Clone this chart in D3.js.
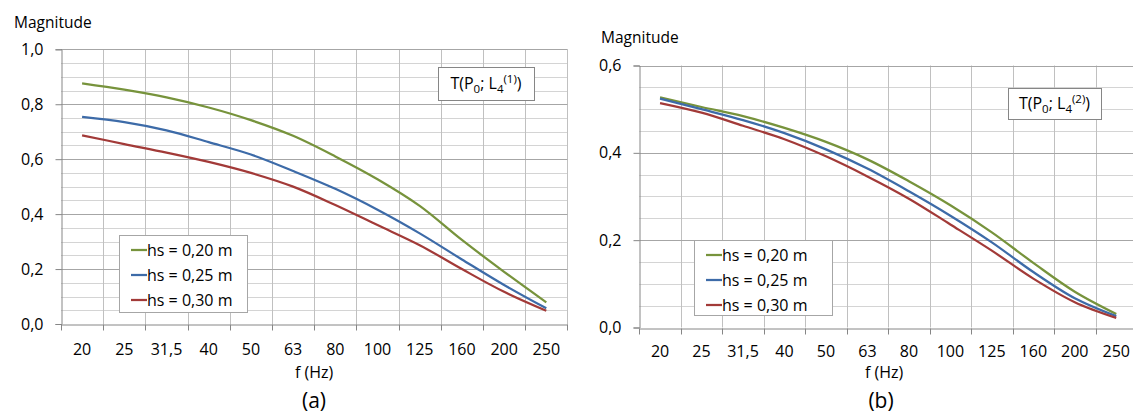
<!DOCTYPE html>
<html>
<head>
<meta charset="utf-8">
<script src="https://cdn.jsdelivr.net/npm/d3@7"></script>
<style>
  html, body { margin: 0; padding: 0; background: #fff; }
  svg { display: block; font-family: "Open Sans", "Liberation Sans", sans-serif; }
</style>
</head>
<body>
<svg id="chart" width="1133" height="414"></svg>
<script>
// ---------- DATA ----------
const categories = ["20", "25", "31,5", "40", "50", "63", "80", "100", "125", "160", "200", "250"];
const seriesNames = ["hs = 0,20 m", "hs = 0,25 m", "hs = 0,30 m"];
const seriesColors = ["#77933C", "#3D6BA8", "#A23A38"];

// Panel (a): T(P0; L4(1))
const aHs020 = [0.876, 0.853, 0.825, 0.788, 0.742, 0.685, 0.610, 0.527, 0.430, 0.306, 0.190, 0.079];
const aHs025 = [0.754, 0.735, 0.705, 0.662, 0.617, 0.557, 0.492, 0.416, 0.330, 0.235, 0.142, 0.057];
const aHs030 = [0.687, 0.655, 0.624, 0.590, 0.550, 0.500, 0.433, 0.360, 0.287, 0.200, 0.117, 0.048];
const aYTicks = [0.0, 0.2, 0.4, 0.6, 0.8, 1.0];

// Panel (b): T(P0; L4(2))
const bHs020 = [0.527, 0.505, 0.484, 0.457, 0.425, 0.385, 0.335, 0.280, 0.218, 0.148, 0.082, 0.031];
const bHs025 = [0.524, 0.500, 0.475, 0.445, 0.408, 0.364, 0.312, 0.256, 0.195, 0.127, 0.067, 0.026];
const bHs030 = [0.514, 0.492, 0.462, 0.431, 0.392, 0.346, 0.295, 0.236, 0.176, 0.112, 0.058, 0.022];
const bYTicks = [0.0, 0.2, 0.4, 0.6];

const minorStep = 0.05;
const fmt = v => d3.format(".1f")(v).replace(".", ",");

const svg = d3.select("#chart");

function drawPanel(cfg) {
  const g = svg.append("g");
  const x = d3.scaleBand().domain(categories).range([cfg.x0, cfg.x1]);
  const y = d3.scaleLinear().domain([0, cfg.yMax]).range([cfg.yBottom, cfg.yTop]);

  // minor horizontal gridlines
  const minor = d3.range(0, cfg.yMax + 1e-9, minorStep).filter(v => Math.abs(v / 0.2 - Math.round(v / 0.2)) > 1e-6);
  g.selectAll(".minor").data(minor).join("line")
    .attr("x1", cfg.x0).attr("x2", cfg.x1)
    .attr("y1", d => Math.round(y(d)) + 0.5).attr("y2", d => Math.round(y(d)) + 0.5)
    .attr("stroke", "#d4d4d4").attr("stroke-width", 1);

  // vertical gridlines at category boundaries
  const bounds = categories.map(c => x(c)).concat([cfg.x1]);
  g.selectAll(".vgrid").data(bounds.slice(1)).join("line")
    .attr("x1", d => Math.round(d) + 0.5).attr("x2", d => Math.round(d) + 0.5)
    .attr("y1", cfg.yTop).attr("y2", cfg.yBottom)
    .attr("stroke", "#c0c0c0").attr("stroke-width", 1);

  // major horizontal gridlines
  g.selectAll(".major").data(cfg.yTicks.filter(v => v > 0)).join("line")
    .attr("x1", cfg.x0).attr("x2", cfg.x1)
    .attr("y1", d => Math.round(y(d)) + 0.5).attr("y2", d => Math.round(y(d)) + 0.5)
    .attr("stroke", "#a6a6a6").attr("stroke-width", 1);

  // Y axis with ticks
  const yAxis = d3.axisLeft(y).tickValues(cfg.yTicks).tickFormat(fmt).tickSize(6).tickPadding(12);
  const ya = g.append("g").attr("transform", `translate(${Math.round(cfg.x0) + 0.5},0)`).call(yAxis);
  ya.select(".domain").attr("stroke", "#868686");
  ya.selectAll(".tick line").attr("stroke", "#868686");
  ya.selectAll(".tick text").attr("font-size", 16).attr("fill", "#000")
    .attr("font-family", "'Open Sans', sans-serif");

  // X axis
  const xAxis = d3.axisBottom(x).tickSize(0).tickPadding(cfg.xPad);
  const xa = g.append("g").attr("transform", `translate(0,${Math.round(cfg.yBottom) + 0.5})`).call(xAxis);
  xa.select(".domain").attr("stroke", "#868686");
  xa.selectAll(".tick text").attr("font-size", 16).attr("fill", "#000")
    .attr("font-family", "'Open Sans', sans-serif").attr("dy", "0.71em");
  xa.selectAll(".btick").data(bounds).join("line")
    .attr("x1", d => Math.round(d) + 0.5).attr("x2", d => Math.round(d) + 0.5)
    .attr("y1", 0).attr("y2", 6).attr("stroke", "#868686");

  // Series lines (smoothed like the original)
  const line = d3.line()
    .x((d, i) => x(categories[i]) + x.bandwidth() / 2)
    .y(d => y(d))
    .curve(d3.curveCatmullRom.alpha(0.5));
  cfg.series.forEach((s, i) => {
    g.append("path").datum(s).attr("d", line)
      .attr("fill", "none").attr("stroke", seriesColors[i]).attr("stroke-width", 2.25);
  });

  // Axis titles
  g.append("text").attr("x", cfg.magX).attr("y", cfg.magY).text("Magnitude")
    .attr("font-size", 15.5).attr("fill", "#000");
  g.append("text").attr("x", (cfg.x0 + cfg.x1) / 2 + cfg.fOff).attr("y", 378).attr("text-anchor", "middle")
    .text("f (Hz)").attr("font-size", 16).attr("fill", "#000");
  g.append("text").attr("x", cfg.capX).attr("y", 408).attr("text-anchor", "middle")
    .text(cfg.caption).attr("font-size", 21).attr("fill", "#000");

  // Legend
  const lg = g.append("g");
  lg.append("rect").attr("x", cfg.leg[0] + 0.5).attr("y", cfg.leg[1] + 0.5)
    .attr("width", cfg.leg[2]).attr("height", cfg.leg[3])
    .attr("fill", "#fff").attr("stroke", "#a6a6a6");
  seriesNames.forEach((name, i) => {
    const cy = cfg.leg[1] + 15 + i * 25;
    lg.append("line").attr("x1", cfg.leg[0] + 12).attr("x2", cfg.leg[0] + 28)
      .attr("y1", cy).attr("y2", cy).attr("stroke", seriesColors[i]).attr("stroke-width", 2.25);
    lg.append("text").attr("x", cfg.leg[0] + 28).attr("y", cy).attr("dy", "0.36em")
      .text(name).attr("font-size", 16).attr("fill", "#000");
  });

  // Annotation box
  const ab = g.append("g");
  ab.append("rect").attr("x", cfg.ann[0] + 0.5).attr("y", cfg.ann[1] + 0.5)
    .attr("width", cfg.ann[2]).attr("height", cfg.ann[3])
    .attr("fill", "#fff").attr("stroke", "#868686");
  const t = ab.append("text").attr("x", cfg.ann[0] + cfg.ann[2] / 2).attr("y", cfg.ann[1] + cfg.ann[3] / 2)
    .attr("dy", "0.36em").attr("text-anchor", "middle").attr("font-size", 16).attr("fill", "#000");
  t.append("tspan").text("T(P");
  t.append("tspan").text("0").attr("font-size", 11.5).attr("dy", 4);
  t.append("tspan").text("; L").attr("dy", -4);
  t.append("tspan").text("4").attr("font-size", 11.5).attr("dy", 4);
  t.append("tspan").text(cfg.supText).attr("font-size", 11.5).attr("dy", -10);
  t.append("tspan").text(")").attr("dy", 6);
}

drawPanel({
  x0: 61, x1: 567.4, yTop: 49.3, yBottom: 324, yMax: 1.0, yTicks: aYTicks, xPad: 19,
  series: [aHs020, aHs025, aHs030],
  magX: 14, magY: 28, fOff: 0, capX: 314, caption: "(a)",
  leg: [119, 235, 128, 77],
  ann: [438, 67, 96, 33], supText: "(1)"
});

drawPanel({
  x0: 639.3, x1: 1137, yTop: 65.5, yBottom: 327.5, yMax: 0.6, yTicks: bYTicks, xPad: 17,
  series: [bHs020, bHs025, bHs030],
  magX: 601, magY: 43, fOff: -4, capX: 881, caption: "(b)",
  leg: [694, 240, 138, 75],
  ann: [1008, 88, 93, 31], supText: "(2)"
});
</script>
</body>
</html>
